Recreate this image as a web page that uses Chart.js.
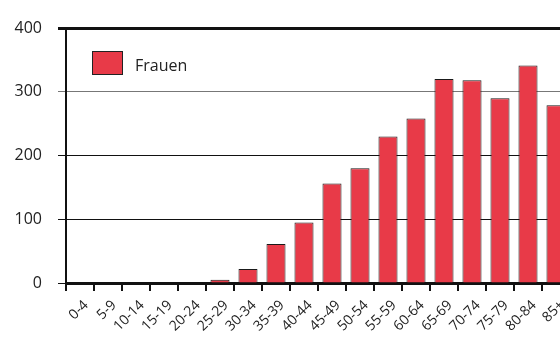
<!DOCTYPE html>
<html>
<head>
<meta charset="utf-8">
<script src="https://cdn.jsdelivr.net/npm/chart.js@4"></script>
<style>
  html, body { margin: 0; padding: 0; background: #fff; overflow: hidden; }
  #wrap { width: 600px; height: 343px; }
</style>
</head>
<body>
<div id="wrap"><canvas id="c"></canvas></div>
<script>
const ageGroups = ['0-4', '5-9', '10-14', '15-19', '20-24', '25-29', '30-34', '35-39', '40-44',
  '45-49', '50-54', '55-59', '60-64', '65-69', '70-74', '75-79', '80-84', '85+'];
const frauen = [0, 0, 0, 0, 0, 5, 22, 61, 95, 156, 180, 230, 258, 320, 318, 290, 341, 279];
const yTicks = [0, 100, 200, 300, 400];

const FONT = "'Open Sans', 'Noto Sans', sans-serif";
const RED = '#e83a48';

// legend box drawn inside the plot, top left
const innerLegend = {
  id: 'innerLegend',
  afterDraw(chart) {
    const ctx = chart.ctx;
    const a = chart.chartArea;
    const ds = chart.data.datasets[0];
    const x = a.left + 26, y = a.top + 23;
    ctx.save();
    ctx.fillStyle = ds.backgroundColor;
    ctx.fillRect(x, y, 30, 23);
    ctx.strokeStyle = '#222';
    ctx.lineWidth = 1;
    ctx.strokeRect(x + 0.5, y + 0.5, 30, 23);
    ctx.fillStyle = '#222';
    ctx.font = '16px ' + FONT;
    ctx.textBaseline = 'middle';
    ctx.fillText(ds.label, x + 43, y + 15);
    ctx.restore();
  }
};

new Chart(document.getElementById('c'), {
  type: 'bar',
  data: {
    labels: ageGroups,
    datasets: [{
      label: 'Frauen',
      data: frauen,
      backgroundColor: RED,
      borderColor: '#1a1a1a',
      borderWidth: 1,
      barPercentage: 0.68,
      categoryPercentage: 1
    }]
  },
  options: {
    responsive: true,
    maintainAspectRatio: false,
    animation: false,
    layout: { padding: { top: 28, right: 30, left: 0, bottom: 0 } },
    plugins: {
      legend: { display: false },
      tooltip: { enabled: false }
    },
    scales: {
      x: {
        afterFit(s) { s.height = 60; },
        grid: {
          drawOnChartArea: false,
          drawTicks: true,
          tickLength: 8,
          color: '#111',
          lineWidth: 2
        },
        border: { color: '#111', width: 3 },
        ticks: {
          color: '#222',
          font: { family: FONT, size: 14 },
          minRotation: 45,
          maxRotation: 45,
          autoSkip: false,
          padding: 6,
          labelOffset: 6
        }
      },
      y: {
        min: 0,
        max: 400,
        afterFit(s) { s.width = 66; },
        afterBuildTicks(s) { s.ticks = yTicks.map(v => ({ value: v })); },
        grid: {
          tickLength: 8,
          color: ctx => ctx.tick && ctx.tick.value === 300 ? '#777' : '#111',
          lineWidth: ctx => ctx.tick && ctx.tick.value === 400 ? 3 : 1
        },
        border: { color: '#111', width: 2 },
        ticks: {
          color: '#222',
          font: { family: FONT, size: 16 },
          padding: 16
        }
      }
    }
  },
  plugins: [innerLegend]
});
</script>
</body>
</html>
